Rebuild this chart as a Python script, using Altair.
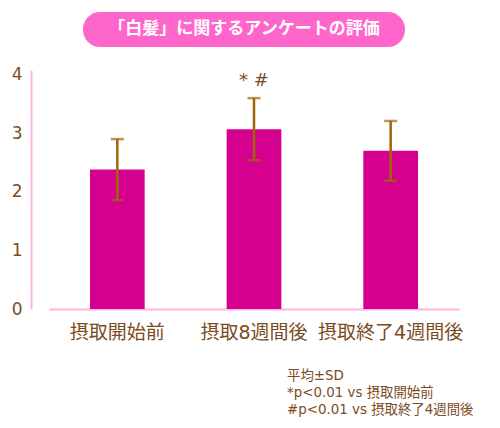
import altair as alt
import pandas as pd

categories = ["摂取開始前", "摂取8週間後", "摂取終了4週間後"]
means = [2.38, 3.07, 2.70]
sds = [0.52, 0.53, 0.51]
marks_text = ["", "* #", ""]
y_ticks = [0, 1, 2, 3, 4]
title_text = "「白髪」に関するアンケートの評価"
footnote = ["平均±SD", "*p<0.01 vs 摂取開始前", "#p<0.01 vs  摂取終了4週間後"]

df = pd.DataFrame({
    "cat": categories,
    "mean": means,
    "lo": [m - s for m, s in zip(means, sds)],
    "hi": [m + s for m, s in zip(means, sds)],
    "mark": marks_text,
})

FONT = "DejaVu Sans, Noto Sans CJK JP, sans-serif"
CJK = "Noto Sans CJK JP"
BROWN = "#7b4b1f"
PINK_AXIS = "#ffb3de"
BAR = "#d6008f"
ERR = "#a0660a"

xscale = alt.Scale(domain=categories, range=[18, 428], paddingInner=0.6, paddingOuter=0.3)
yscale = alt.Scale(domain=[0, 4.08], nice=False, zero=True)

x = alt.X("cat:N", scale=xscale, sort=categories,
          axis=alt.Axis(title=None, labelAngle=0, labelFontSize=19, labelColor=BROWN,
                        labelFont=FONT, labelPadding=14, ticks=False,
                        domainColor=PINK_AXIS, domainWidth=2))

base = alt.Chart(df)

bars = base.mark_bar(color=BAR).encode(
    x=x,
    y=alt.Y("mean:Q", scale=yscale,
            axis=alt.Axis(title=None, values=y_ticks, format="d", grid=False, ticks=False,
                          labelFontSize=17, labelColor=BROWN, labelFont=FONT,
                          labelPadding=9, domainColor=PINK_AXIS, domainWidth=2)),
)

rules = base.mark_rule(color=ERR, strokeWidth=2.5).encode(
    x=alt.X("cat:N", scale=xscale, sort=categories),
    y=alt.Y("lo:Q", scale=yscale),
    y2="hi:Q",
)
cap_lo = base.mark_tick(color=ERR, thickness=2.5, size=13).encode(
    x=alt.X("cat:N", scale=xscale, sort=categories),
    y=alt.Y("lo:Q", scale=yscale),
)
cap_hi = base.mark_tick(color=ERR, thickness=2.5, size=13).encode(
    x=alt.X("cat:N", scale=xscale, sort=categories),
    y=alt.Y("hi:Q", scale=yscale),
)
sig = base.mark_text(color=BROWN, fontSize=18, font=FONT, dy=-17).encode(
    x=alt.X("cat:N", scale=xscale, sort=categories),
    y=alt.Y("hi:Q", scale=yscale),
    text="mark:N",
)

badge = alt.Chart(pd.DataFrame({"t": [title_text]})).mark_rect(
    color="#ff66cc", cornerRadius=17
).encode(x=alt.value(52), x2=alt.value(374), y=alt.value(-58), y2=alt.value(-23))

badge_text = alt.Chart(pd.DataFrame({"t": [title_text]})).mark_text(
    color="white", fontSize=17, fontWeight="bold", font=CJK
).encode(x=alt.value(213), y=alt.value(-41), text="t:N")

foot = alt.Chart(pd.DataFrame({"t": ["\n".join(footnote)]})).mark_text(
    color=BROWN, fontSize=13.4, font=FONT, align="left", baseline="top",
    lineBreak="\n", lineHeight=16.8
).encode(x=alt.value(256), y=alt.value(299), text="t:N")

chart = alt.layer(bars, rules, cap_lo, cap_hi, sig, badge, badge_text, foot).properties(
    width=425, height=239,
    autosize=alt.AutoSizeParams(type="none"),
    padding={"left": 23, "top": 62, "right": 36, "bottom": 111},
).configure_view(stroke=None)

chart.save("out.html", embed_options={"renderer": "svg", "actions": False})
